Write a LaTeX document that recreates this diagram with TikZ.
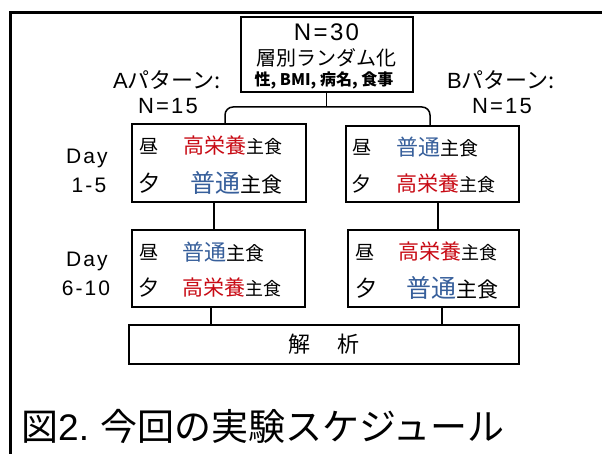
\documentclass[tikz,border=0pt]{standalone}
\usepackage{fontspec}
\setmainfont{Noto Sans CJK JP}
\newfontfamily\latinfont{Liberation Sans}
\newfontfamily\widelatin[LetterSpace=10]{Liberation Sans}
\definecolor{kred}{RGB}{200,10,20}
\definecolor{kblue}{RGB}{55,95,155}
\newcommand{\fs}[1]{\fontsize{#1}{#1}\selectfont}
\tikzset{
  box/.style={draw, line width=2pt, inner sep=0pt, fill=white},
  conn/.style={line width=1.5pt},
  txt/.style={inner sep=0pt, anchor=west},
}
\begin{document}
\begin{tikzpicture}[x=1pt,y=-1pt]
\useasboundingbox[fill=white] (0,0) rectangle (602,454);
% frame
\draw[line width=3pt] (10,454) -- (10,13) -- (602,13);
% boxes
\node[box, minimum width=172pt, minimum height=75pt] (top) at (326.5,54.5) {};
\node[box, minimum width=174pt, minimum height=78pt] (a1) at (219,163) {};
\node[box, minimum width=173pt, minimum height=76pt] (b1) at (432.5,164) {};
\node[box, minimum width=173pt, minimum height=77pt] (a2) at (218.5,268.5) {};
\node[box, minimum width=171pt, minimum height=77pt] (b2) at (433.5,268.5) {};
\node[box, minimum width=390pt, minimum height=39pt] (an) at (324,344.5) {};
% top box text
\node[inner sep=0pt] (n30) at (326.5,32) {\widelatin\fs{24}N=30};
\node[inner sep=0pt] (strat) at (326.5,58) {\fs{20}層別ランダム化};
\node[inner sep=0pt] (vars) at (324,80) {\fs{16}\bfseries 性, BMI, 病名, 食事};
% pattern labels
\node[inner sep=0pt] (pa) at (167,80) {\fs{22}{\widelatin A}パターン:};
\node[inner sep=0pt] (pan) at (168,106) {\widelatin\fs{22}N=15};
\node[inner sep=0pt] (pb) at (501,80) {\fs{22}{\widelatin B}パターン:};
\node[inner sep=0pt] (pbn) at (502,106) {\widelatin\fs{22}N=15};
% day labels
\node[inner sep=0pt] (d1a) at (87,158) {\widelatin\fs{21}Day};
\node[inner sep=0pt] (d1b) at (89,185) {\widelatin\fs{21}1-5};
\node[inner sep=0pt] (d2a) at (87,261) {\widelatin\fs{21}Day};
\node[inner sep=0pt] (d2b) at (86,288) {\widelatin\fs{21}6-10};
% A1
\node[txt] (a1l1) at (139,146) {\fs{19}昼};
\node[txt] (a1f1) at (183,146) {{\fs{21}\color{kred}高栄養}\fs{18}主食};
\node[txt] (a1l2) at (138,183) {\fs{22}夕};
\node[txt] (a1f2) at (190,183) {{\fs{25}\color{kblue}普通}\fs{21}主食};
% B1
\node[txt] (b1l1) at (352,147) {\fs{19}昼};
\node[txt] (b1f1) at (396,147) {{\fs{22}\color{kblue}普通}\fs{19}主食};
\node[txt] (b1l2) at (351,184) {\fs{20}夕};
\node[txt] (b1f2) at (396,184) {{\fs{21}\color{kred}高栄養}\fs{18}主食};
% A2
\node[txt] (a2l1) at (139,252) {\fs{19}昼};
\node[txt] (a2f1) at (182,252) {{\fs{22}\color{kblue}普通}\fs{19}主食};
\node[txt] (a2l2) at (138,288) {\fs{21}夕};
\node[txt] (a2f2) at (182,288) {{\fs{21}\color{kred}高栄養}\fs{18}主食};
% B2
\node[txt] (b2l1) at (355,252) {\fs{19}昼};
\node[txt] (b2f1) at (398,252) {{\fs{21}\color{kred}高栄養}\fs{18}主食};
\node[txt] (b2l2) at (355,288) {\fs{22}夕};
\node[txt] (b2f2) at (406,288) {{\fs{25}\color{kblue}普通}\fs{21}主食};
% analysis
\node[inner sep=0pt] (antext) at (an) {\fs{22}解\hspace{1.2em}析};
% title
\node[txt] (title) at (21,426) {\fs{37}図{\latinfont 2.} 今回の実験スケジュール};
% connectors
\coordinate (split) at (326.5,107);
\coordinate (ja) at (225,107);
\coordinate (jb) at (430,107);
\draw[conn] (top.south) -- (split);
\draw[conn, rounded corners=8pt] (a1.north -| ja) -- (ja) -- (jb) -- (b1.north -| jb);
\draw[conn] (a1.south -| 214,0) -- (a2.north -| 214,0);
\draw[conn] (b1.south -| 438,0) -- (b2.north -| 438,0);
\draw[conn] (a2.south -| 211,0) -- (an.north -| 211,0);
\draw[conn] (b2.south -| 442,0) -- (an.north -| 442,0);
\end{tikzpicture}
\end{document}
